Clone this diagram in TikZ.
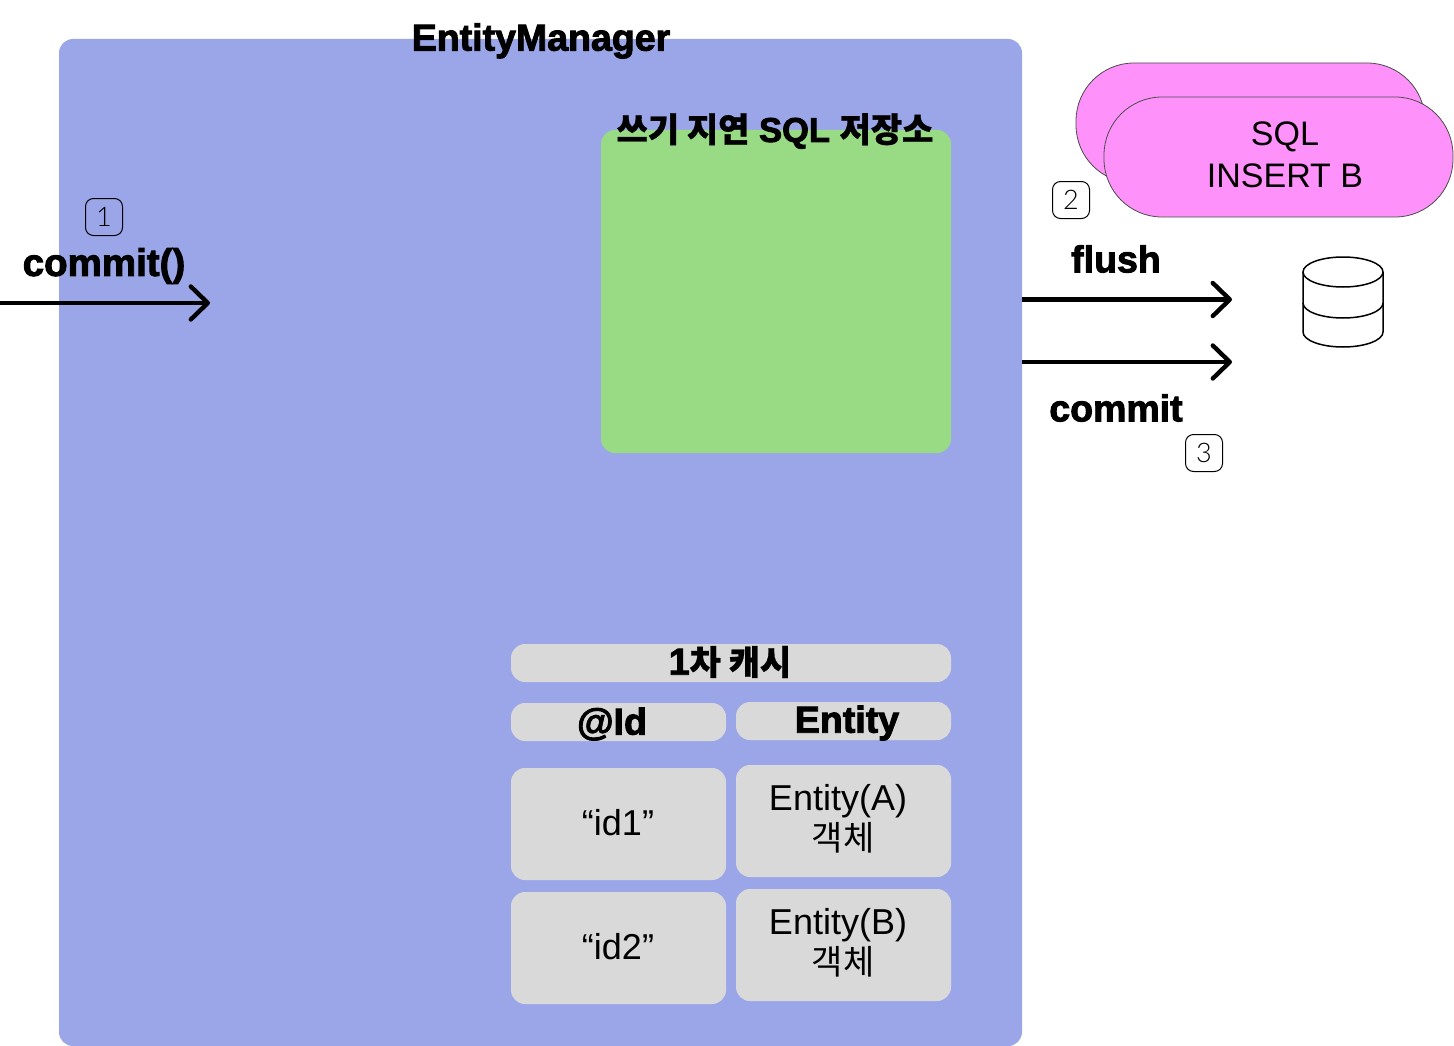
\documentclass[tikz,border=0pt]{standalone}
\usepackage{fontspec}
\usetikzlibrary{arrows.meta}
\setmainfont{Liberation Sans}
\newfontfamily\kor{Noto Sans CJK KR}
\newfontfamily\thinfont{Lato Light}
\newfontfamily\lathv[BoldFont={Liberation Sans Bold},BoldFeatures={FakeBold=2.4}]{Liberation Sans}
\newfontfamily\korhv[BoldFeatures={FakeBold=0.8}]{Noto Sans CJK KR}
\newcommand{\hv}{\lathv\bfseries}
\newcommand{\kohv}[1]{{\korhv\bfseries\fontsize{34}{34}\selectfont #1}}
\definecolor{mgrblue}{HTML}{9BA6E8}
\definecolor{sqlgreen}{HTML}{99DB85}
\definecolor{cellgray}{HTML}{D9D9D9}
\definecolor{pinkfill}{HTML}{FF91FB}
\tikzset{
  x=1pt,y=-1pt,
  panel/.style={rectangle,rounded corners=14pt,inner sep=0pt,fill=#1},
  pill/.style={rectangle,rounded corners=58pt,inner sep=0pt,fill=pinkfill,draw=black!70,line width=0.8pt,minimum width=349pt,minimum height=120pt},
  badge/.style={rectangle,rounded corners=8pt,draw=black,line width=1pt,minimum size=37pt,inner sep=0pt,font=\thinfont\fontsize{27}{27}\selectfont},
  bigbold/.style={inner sep=0pt,font=\fontsize{37.5}{37.5}\selectfont\hv},
  body/.style={inner sep=0pt,align=center,font=\fontsize{36}{41}\selectfont},
  flow/.style={line width=4.4pt,line cap=butt,-{Straight Barb[length=17pt,width=33pt,line cap=round,line join=round]}},
  dbline/.style={line width=1.5pt,draw=black}
}
\begin{document}
\begin{tikzpicture}
\useasboundingbox (0,0) rectangle (1454,1046);
\node[panel=mgrblue,minimum width=963pt,minimum height=1007pt] (mgr) at (540.5,542.5) {};
\node[panel=sqlgreen,minimum width=350pt,minimum height=323pt] (store) at (776,291.5) {};
\node[panel=cellgray,minimum width=440pt,minimum height=38pt] (cache) at (731,663) {};
\node[panel=cellgray,minimum width=215pt,minimum height=38pt] (idhead) at (618.5,722) {};
\node[panel=cellgray,minimum width=215pt,minimum height=38pt] (enthead) at (843.5,721) {};
\node[panel=cellgray,minimum width=215pt,minimum height=112pt] (id1) at (618.5,824) {};
\node[panel=cellgray,minimum width=215pt,minimum height=112pt] (id2) at (618.5,948) {};
\node[panel=cellgray,minimum width=215pt,minimum height=112pt] (enta) at (843.5,821) {};
\node[panel=cellgray,minimum width=215pt,minimum height=112pt] (entb) at (843.5,945) {};
\node[pill] (pillback) at (1250.5,123) {};
\node[pill] (pillfront) at (1278.5,157) {};
% texts
\node[bigbold] (tmgr) at (541,41) {EntityManager};
\node[bigbold,font=\fontsize{34.5}{34.5}\selectfont\hv] (tstore) at (775,131) {\kohv{쓰기 지연} SQL \kohv{저장소}};
\node[bigbold] (tcache) at (730,662) {1\kohv{차 캐시}};
\node[bigbold] (tid) at (612,724) {@Id};
\node[bigbold] (tent) at (847,723) {Entity};
\node[body] (lid1) at (618,823) {“id1”};
\node[body] (lid2) at (618,947) {“id2”};
\node[body] (lenta) at (838,801) {Entity(A)};
\node[body] (lentak) at (843,838) {\kor\fontsize{34}{34}\selectfont 객체};
\node[body] (lentb) at (838,925) {Entity(B)};
\node[body] (lentbk) at (843,962) {\kor\fontsize{34}{34}\selectfont 객체};
\node[body,font=\fontsize{34}{34}\selectfont] (lsql) at (1285,137) {SQL};
\node[body,font=\fontsize{34}{34}\selectfont] (lins) at (1285,176) {INSERT B};
\node[badge] (b1) at (104,217) {1};
\node[badge] (b2) at (1071,200) {2};
\node[badge] (b3) at (1204,453) {3};
\node[bigbold,font=\fontsize{38.5}{38.5}\selectfont\hv] (tcommitcall) at (104,266) {commit()};
\node[bigbold] (tflush) at (1116,259) {flush};
\node[bigbold] (tcommit) at (1116,408) {commit};
% connectors
\coordinate (inS) at (0,303);
\coordinate (inE) at (210,303);
\coordinate (flushE) at (1232,299.5);
\coordinate (commitE) at (1232,362);
\draw[flow] (inS) -- (inE);
\draw[flow] (mgr.east |- flushE) -- (flushE);
\draw[flow] (mgr.east |- commitE) -- (commitE);
% database
\draw[dbline,fill=white] (1303,272) -- (1303,332) arc[start angle=180,end angle=360,x radius=40pt,y radius=15pt] -- (1383,272);
\draw[dbline] (1343,272) ellipse[x radius=40pt,y radius=15pt];
\draw[dbline] (1303,303) arc[start angle=180,end angle=360,x radius=40pt,y radius=15pt];
\end{tikzpicture}
\end{document}
